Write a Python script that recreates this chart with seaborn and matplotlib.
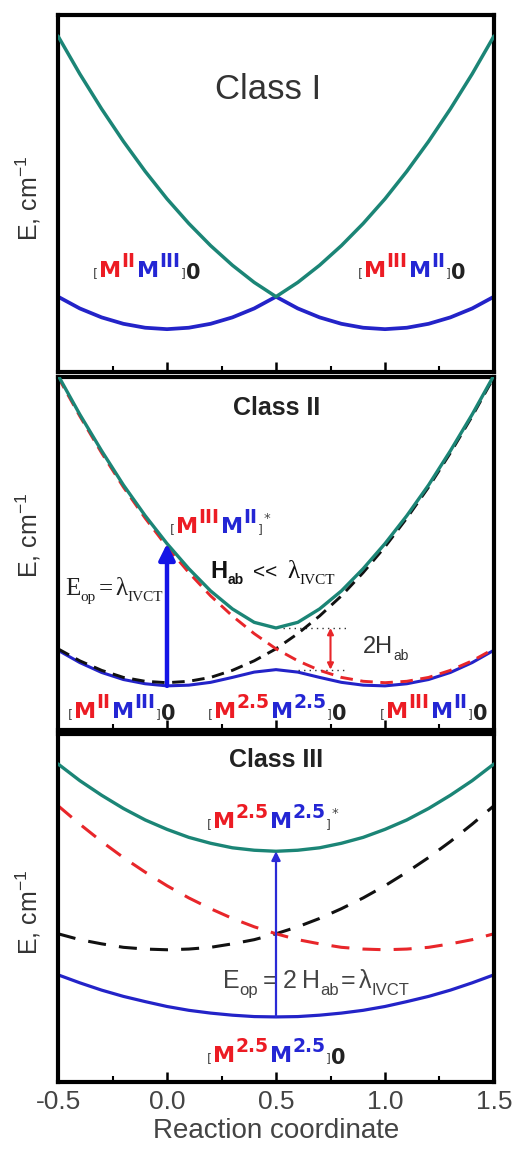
import matplotlib
matplotlib.use("Agg")
import matplotlib.pyplot as plt
from matplotlib import transforms as mtrans
from matplotlib.ticker import MultipleLocator
import pandas as pd
import seaborn as sns

# ---------------- data (energies in arbitrary units, 0-10 per panel) ----------------
x_coord = [-0.5, -0.4, -0.3, -0.2, -0.1, 0.0, 0.1, 0.2, 0.3, 0.4, 0.5,
           0.6, 0.7, 0.8, 0.9, 1.0, 1.1, 1.2, 1.3, 1.4, 1.5]

# Class I
c1_upper = [9.41, 8.35, 7.37, 6.46, 5.62, 4.85, 4.16, 3.54, 2.99, 2.51, 2.11,
            2.51, 2.99, 3.54, 4.16, 4.85, 5.62, 6.46, 7.37, 8.35, 9.41]
c1_lower = [2.11, 1.78, 1.53, 1.35, 1.24, 1.20, 1.24, 1.35, 1.53, 1.78, 2.11,
            1.78, 1.53, 1.35, 1.24, 1.20, 1.24, 1.35, 1.53, 1.78, 2.11]

# Class II
c2_upper = [10.05, 8.94, 7.91, 6.94, 6.07, 5.28, 4.57, 3.94, 3.43, 3.05, 2.89,
            3.05, 3.43, 3.94, 4.57, 5.28, 6.07, 6.94, 7.91, 8.94, 10.05]
c2_lower = [2.26, 1.91, 1.63, 1.43, 1.31, 1.25, 1.27, 1.35, 1.49, 1.64, 1.71,
            1.64, 1.49, 1.35, 1.27, 1.25, 1.31, 1.43, 1.63, 1.91, 2.26]
c2_diab_left = [2.30, 1.96, 1.69, 1.49, 1.38, 1.34, 1.38, 1.49, 1.69, 1.96, 2.30,
                2.73, 3.23, 3.80, 4.46, 5.19, 6.00, 6.88, 7.85, 8.89, 10.00]
c2_diab_right = [10.00, 8.89, 7.85, 6.88, 6.00, 5.19, 4.46, 3.80, 3.23, 2.73, 2.30,
                 1.96, 1.69, 1.49, 1.38, 1.34, 1.38, 1.49, 1.69, 1.96, 2.30]

# Class III
c3_upper = [9.14, 8.66, 8.24, 7.86, 7.53, 7.26, 7.03, 6.86, 6.73, 6.66, 6.63,
            6.66, 6.73, 6.86, 7.03, 7.26, 7.53, 7.86, 8.24, 8.66, 9.14]
c3_lower = [3.08, 2.85, 2.64, 2.46, 2.31, 2.17, 2.06, 1.98, 1.92, 1.88, 1.87,
            1.88, 1.92, 1.98, 2.06, 2.17, 2.31, 2.46, 2.64, 2.85, 3.08]
c3_diab_left = [4.26, 4.09, 3.97, 3.87, 3.82, 3.80, 3.82, 3.87, 3.97, 4.09, 4.26,
                4.46, 4.70, 4.98, 5.29, 5.64, 6.03, 6.45, 6.91, 7.41, 7.94]
c3_diab_right = [7.94, 7.41, 6.91, 6.45, 6.03, 5.64, 5.29, 4.98, 4.70, 4.46, 4.26,
                 4.09, 3.97, 3.87, 3.82, 3.80, 3.82, 3.87, 3.97, 4.09, 4.26]

xtick_values = [-0.5, 0.0, 0.5, 1.0, 1.5]
xtick_labels = ["-0.5", "0.0", "0.5", "1.0", "1.5"]
panel_titles = ["Class I", "Class II", "Class III"]

# ---------------- style ----------------
sns.set_style("white")
plt.rcParams["font.family"] = ["Liberation Sans", "DejaVu Sans"]
plt.rcParams["mathtext.fontset"] = "custom"
plt.rcParams["mathtext.rm"] = "Liberation Sans"
plt.rcParams["mathtext.it"] = "Liberation Sans:italic"
plt.rcParams["mathtext.bf"] = "Liberation Sans:bold"

TEAL = "#1b8576"
BLUE_LINE = "#2323c8"
RED = "#ec1c24"
BLUE = "#2426d4"
DASH_RED = "#e8262a"
DARK = "#222222"
GRAY = "#444444"

fig = plt.figure(figsize=(5.16, 11.54), dpi=100)
W, H = 516.0, 1154.0
left = 58 / W
width = 436 / W
ax1 = fig.add_axes([left, 1 - 372 / H, width, 357 / H])
ax2 = fig.add_axes([left, 1 - 730 / H, width, 353 / H])
ax3 = fig.add_axes([left, 1 - 1082 / H, width, 348 / H])
axes = [ax1, ax2, ax3]

renderer = fig.canvas.get_renderer()


def rich(ax, x, y, pieces):
    """Draw a sequence of differently styled text pieces one after another."""
    dx = 0.0
    for p in pieces:
        s, color, size, dy, fam, weight, gap = p
        tr = mtrans.offset_copy(ax.transData, fig=fig, x=dx, y=dy, units="points")
        t = ax.text(x, y, s, transform=tr, color=color, fontsize=size,
                    family=fam, fontweight=weight, ha="left", va="baseline")
        bb = t.get_window_extent(renderer=renderer)
        dx += bb.width * 72.0 / fig.dpi + gap


def mlabel(ax, x, y, sup1, sup2, end):
    f = "DejaVu Sans"
    pieces = [
        ("[", GRAY, 9, 0, f, "normal", 0.7),
        ("M", RED, 16, 0, f, "bold", 0.3),
        (sup1, RED, 13.5, 7.5, f, "bold", 0.8),
        ("M", BLUE, 16, 0, f, "bold", 0.3),
        (sup2, BLUE, 13.5, 7.5, f, "bold", 0.6),
        ("]", GRAY, 9, 0, f, "normal", 0.4),
    ]
    if end == "*":
        pieces.append(("*", GRAY, 9.5, 8, f, "normal", 0))
    else:
        pieces.append((end, DARK, 15, -1.5, f, "bold", 0))
    rich(ax, x, y, pieces)


def curve(ax, y, color, lw, ls="-", z=2):
    df = pd.DataFrame({"x": x_coord, "E": y})
    sns.lineplot(data=df, x="x", y="E", ax=ax, color=color, lw=lw, linestyle=ls,
                 estimator=None, sort=False, zorder=z)


# ---------------- curves ----------------
curve(ax1, c1_lower, BLUE_LINE, 2.7)
curve(ax1, c1_upper, TEAL, 2.5, z=3)

curve(ax2, c2_lower, BLUE_LINE, 2.2)
curve(ax2, c2_diab_left, "#111111", 2.1, ls=(0, (4.3, 2.6)), z=2.5)
curve(ax2, c2_diab_right, DASH_RED, 2.1, ls=(0, (4.3, 2.6)), z=2.5)
curve(ax2, c2_upper, TEAL, 2.4, z=3)

curve(ax3, c3_lower, BLUE_LINE, 2.3)
curve(ax3, c3_diab_left, "#111111", 2.2, ls=(0, (5.9, 4.3)), z=2.5)
curve(ax3, c3_diab_right, DASH_RED, 2.2, ls=(0, (5.9, 4.3)), z=2.5)
curve(ax3, c3_upper, TEAL, 2.4, z=3)

# ---------------- axes formatting ----------------
label_y = [0.487, 0.55, 0.486]
for i, ax in enumerate(axes):
    ax.set_xlim(-0.5, 1.5)
    ax.set_ylim(0, 10)
    ax.set_yticks([])
    ax.set_xticks(xtick_values)
    ax.set_xticklabels(xtick_labels)
    ax.xaxis.set_minor_locator(MultipleLocator(0.25))
    ax.tick_params(axis="x", which="major", direction="in", length=7, width=1.8,
                   bottom=True, top=False, labelsize=19, labelcolor=GRAY, pad=6,
                   labelbottom=(ax is ax3), color="black")
    ax.tick_params(axis="x", which="minor", direction="in", length=4, width=1.5,
                   bottom=True, top=False, color="black")
    for sp in ax.spines.values():
        sp.set_visible(True)
        sp.set_linewidth(3.0)
        sp.set_color("black")
    ax.set_xlabel("")
    ax.set_ylabel("E, cm$^{-1}$", fontsize=18, color="#333333")
    ax.yaxis.set_label_coords(-0.035, label_y[i])

ax3.set_xlabel("Reaction coordinate", fontsize=20, color=GRAY, labelpad=3)

# ---------------- titles ----------------
ax1.text(0.463, 7.65, panel_titles[0], ha="center", va="baseline", fontsize=25,
         color="#333333")
ax2.text(0.505, 8.92, panel_titles[1], ha="center", va="baseline", fontsize=18,
         fontweight="bold", color=DARK)
ax3.text(0.5, 9.05, panel_titles[2], ha="center", va="baseline", fontsize=18,
         fontweight="bold", color=DARK)

# ---------------- state labels ----------------
mlabel(ax1, -0.34, 2.66, "II", "III", "0")
mlabel(ax1, 0.876, 2.66, "III", "II", "0")

mlabel(ax2, 0.014, 5.58, "III", "II", "*")
mlabel(ax2, -0.454, 0.34, "II", "III", "0")
mlabel(ax2, 0.188, 0.34, "2.5", "2.5", "0")
mlabel(ax2, 0.977, 0.34, "III", "II", "0")

mlabel(ax3, 0.183, 7.3, "2.5", "2.5", "*")
mlabel(ax3, 0.183, 0.575, "2.5", "2.5", "0")

# ---------------- Class II annotations ----------------
i0 = x_coord.index(0.0)
imid = x_coord.index(0.5)
ax2.annotate("", xy=(x_coord[i0], c2_upper[i0]), xytext=(x_coord[i0], c2_lower[i0]),
             arrowprops=dict(arrowstyle="-|>", color="#1414e6", lw=3.2,
                             mutation_scale=24, shrinkA=0, shrinkB=0), zorder=4)
ax2.annotate("", xy=(0.75, c2_upper[imid]), xytext=(0.75, c2_lower[imid]),
             arrowprops=dict(arrowstyle="<|-|>", color=DASH_RED, lw=1.5,
                             mutation_scale=9, shrinkA=0, shrinkB=0), zorder=4)
ax2.plot([0.53, 0.83], [c2_upper[imid]] * 2, color="#333333", lw=1.0, ls=(0, (1, 3)))
ax2.plot([0.60, 0.83], [c2_lower[imid]] * 2, color="#333333", lw=1.0, ls=(0, (1, 3)))

serif = "Liberation Serif"
sans = "Liberation Sans"
rich(ax2, -0.468, 3.82, [
    ("E", DARK, 18, 0, serif, "normal", 0),
    ("op", DARK, 11, -4, serif, "normal", 2),
    ("=", DARK, 18, 0, serif, "normal", 2),
    ("\u03bb", DARK, 18, 0, serif, "normal", 0),
    ("IVCT", DARK, 11, -4, serif, "normal", 0),
])
rich(ax2, 0.197, 4.3, [
    ("H", "#111111", 17, 0, sans, "bold", 0.3),
    ("ab", "#111111", 10, -4.5, sans, "bold", 7),
    ("<<", "#111111", 15, 0, sans, "normal", 7),
    ("\u03bb", "#111111", 18, 0, serif, "normal", 0),
    ("IVCT", "#111111", 11, -4, serif, "normal", 0),
])
rich(ax2, 0.899, 2.18, [
    ("2H", "#333333", 17, 0, sans, "normal", 0.3),
    ("ab", "#333333", 10, -5, sans, "normal", 0),
])

# ---------------- Class III annotations ----------------
ax3.annotate("", xy=(x_coord[imid], c3_upper[imid]), xytext=(x_coord[imid], c3_lower[imid]),
             arrowprops=dict(arrowstyle="-|>", color="#2a2ad6", lw=1.6,
                             mutation_scale=13, shrinkA=0, shrinkB=0), zorder=4)
rich(ax3, 0.257, 2.70, [
    ("E", GRAY, 18, 0, sans, "normal", 0),
    ("op", GRAY, 12, -5, sans, "normal", 3),
    ("=", GRAY, 18, 0, sans, "normal", 4),
    ("2", GRAY, 18, 0, sans, "normal", 4),
    ("H", GRAY, 18, 0, sans, "normal", 0.3),
    ("ab", GRAY, 12, -5, sans, "normal", 1),
    ("=", GRAY, 18, 0, sans, "normal", 3),
    ("\u03bb", GRAY, 18, 0, sans, "normal", 0),
    ("IVCT", GRAY, 12, -5, sans, "normal", 0),
])

fig.savefig("out.png", dpi=100)
